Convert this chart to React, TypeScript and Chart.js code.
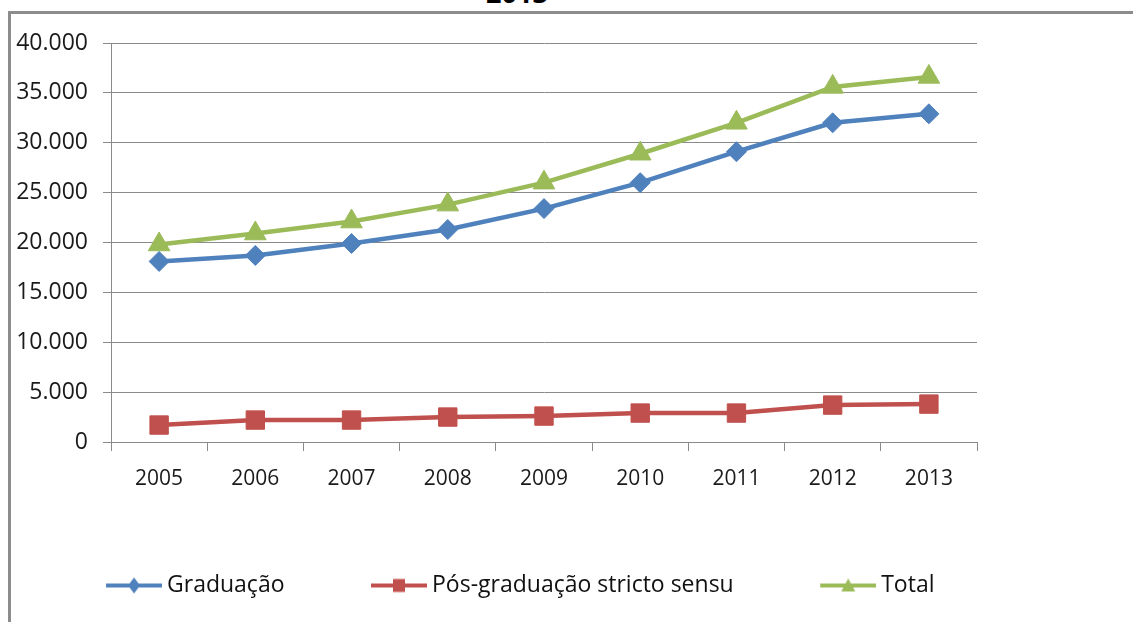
import React, { useEffect, useRef } from 'react';
import { Chart, registerables } from 'chart.js';

Chart.register(...registerables);

// ---- Data ----
const years = ['2005', '2006', '2007', '2008', '2009', '2010', '2011', '2012', '2013'];
const graduacao = [18100, 18700, 19900, 21300, 23400, 26000, 29100, 32000, 32900];
const posGraduacao = [1700, 2200, 2200, 2500, 2600, 2900, 2900, 3700, 3800];
const total = [19800, 20900, 22100, 23800, 26000, 28900, 32000, 35600, 36600];
const seriesLabels = ['Graduação', 'Pós-graduação stricto sensu', 'Total'];
const yMin = 0;
const yMax = 40000;
const yStep = 5000;
const titleTail = '2013';

const BLUE = '#4F81BD';
const RED = '#C0504D';
const GREEN = '#9BBB59';
const GRID = '#8a8a8a';
const FONT = "'Open Sans', sans-serif";

function formatThousands(v: number): string {
  return String(v).replace(/\B(?=(\d{3})+(?!\d))/g, '.');
}

const LEG_BOX = 126;
const LEG_FONT = 23;

function makeLegendIcon(color: string, shape: string): HTMLCanvasElement {
  const cw = LEG_BOX + 13;
  const ch = 24;
  const c = document.createElement('canvas');
  c.width = cw;
  c.height = ch;
  const ctx = c.getContext('2d')!;
  const cy = ch / 2;
  ctx.strokeStyle = color;
  ctx.fillStyle = color;
  ctx.lineWidth = 4;
  ctx.beginPath();
  ctx.moveTo(cw - 56, cy);
  ctx.lineTo(cw, cy);
  ctx.stroke();
  const mx = cw - 28;
  ctx.beginPath();
  if (shape === 'diamond') {
    ctx.moveTo(mx, cy - 8);
    ctx.lineTo(mx + 6, cy);
    ctx.lineTo(mx, cy + 8);
    ctx.lineTo(mx - 6, cy);
  } else if (shape === 'square') {
    ctx.rect(mx - 6, cy - 6.5, 12, 13);
  } else {
    ctx.moveTo(mx, cy - 7);
    ctx.lineTo(mx + 7, cy + 6);
    ctx.lineTo(mx - 7, cy + 6);
  }
  ctx.closePath();
  ctx.fill();
  return c;
}

export default function App() {
  const canvasRef = useRef<HTMLCanvasElement | null>(null);

  useEffect(() => {
    if (!canvasRef.current) return;
    const icons = [
      makeLegendIcon(BLUE, 'diamond'),
      makeLegendIcon(RED, 'square'),
      makeLegendIcon(GREEN, 'triangle'),
    ];
    const chart = new Chart(canvasRef.current, {
      type: 'line',
      data: {
        labels: years,
        datasets: [
          {
            label: seriesLabels[0],
            data: graduacao,
            borderColor: BLUE,
            backgroundColor: BLUE,
            borderWidth: 4.5,
            pointStyle: 'rectRot',
            pointRadius: 10,
            pointBorderWidth: 1,
            pointBackgroundColor: BLUE,
            pointBorderColor: BLUE,
            tension: 0,
          },
          {
            label: seriesLabels[1],
            data: posGraduacao,
            borderColor: RED,
            backgroundColor: RED,
            borderWidth: 4.5,
            pointStyle: 'rect',
            pointRadius: 13,
            pointBorderWidth: 1,
            pointBackgroundColor: RED,
            pointBorderColor: RED,
            tension: 0,
          },
          {
            label: seriesLabels[2],
            data: total,
            borderColor: GREEN,
            backgroundColor: GREEN,
            borderWidth: 4.5,
            pointStyle: 'triangle',
            pointRadius: 12.5,
            pointBorderWidth: 1,
            pointBackgroundColor: GREEN,
            pointBorderColor: GREEN,
            tension: 0,
          },
        ],
      },
      options: {
        animation: false,
        responsive: false,
        maintainAspectRatio: false,
        layout: { padding: { left: -13, right: 156, top: 43, bottom: 15 } },
        scales: {
          x: {
            offset: true,
            grid: {
              offset: true,
              drawOnChartArea: false,
              drawTicks: true,
              tickLength: 9,
              color: GRID,
            },
            border: { display: true, color: GRID, width: 1 },
            ticks: {
              padding: 15,
              color: '#1a1a1a',
              font: { family: FONT, size: 21 },
              maxRotation: 0,
            },
            afterFit: (scale: any) => {
              scale.height = 122;
            },
          },
          y: {
            min: yMin,
            max: yMax,
            grid: { color: GRID, drawTicks: true, tickLength: 8 },
            border: { display: true, color: GRID, width: 1 },
            ticks: {
              stepSize: yStep,
              padding: 15,
              color: '#1a1a1a',
              font: { family: FONT, size: 23 },
              callback: (v: any) => formatThousands(Number(v)),
            },
            afterFit: (scale: any) => {
              scale.width = 124;
            },
          },
        },
        plugins: {
          title: { display: false },
          tooltip: { enabled: false },
          legend: {
            display: true,
            position: 'bottom',
            labels: {
              usePointStyle: true,
              pointStyleWidth: LEG_BOX,
              padding: 10,
              color: '#111',
              font: { family: FONT, size: LEG_FONT },
              generateLabels: (ch: any) =>
                ch.data.datasets.map((ds: any, i: number) => ({
                  text: ds.label,
                  pointStyle: icons[i],
                  fillStyle: 'rgba(0,0,0,0)',
                  strokeStyle: 'rgba(0,0,0,0)',
                  lineWidth: 0,
                  hidden: false,
                  datasetIndex: i,
                  fontColor: '#111',
                })),
            },
          },
        },
      },
    });
    return () => chart.destroy();
  }, []);

  return (
    <div
      style={{
        position: 'fixed',
        left: 0,
        top: 0,
        width: 1133,
        height: 622,
        overflow: 'hidden',
        background: '#fff',
      }}
    >
      <div
        style={{
          position: 'absolute',
          left: 8,
          top: 11,
          width: 1300,
          height: 800,
          border: '3px solid #8c8c8c',
          boxSizing: 'border-box',
        }}
      />
      <div
        style={{
          position: 'absolute',
          left: 467,
          top: -21,
          width: 100,
          textAlign: 'center',
          fontFamily: FONT,
          fontWeight: 700,
          fontSize: 27,
          lineHeight: '27px',
          color: '#000',
        }}
      >
        {titleTail}
      </div>
      <canvas
        ref={canvasRef}
        width={1133}
        height={622}
        style={{ position: 'absolute', left: 0, top: 0, width: 1133, height: 622 }}
      />
    </div>
  );
}
